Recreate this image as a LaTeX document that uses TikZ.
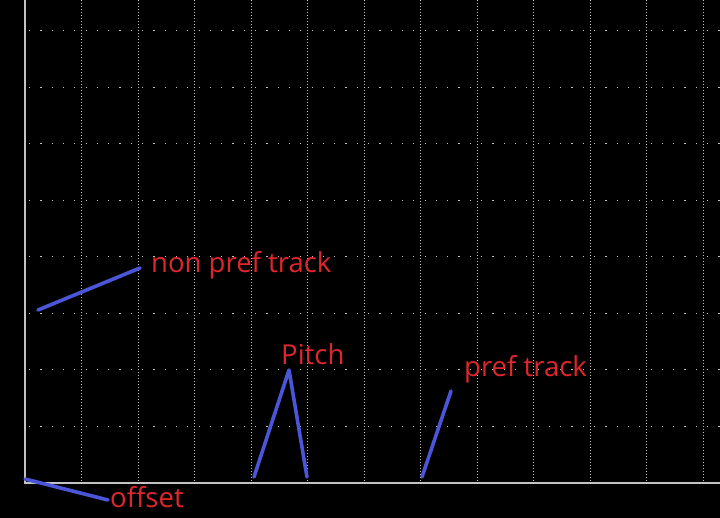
\documentclass[tikz,border=0pt]{standalone}
\usepackage{fontspec}
\setmainfont{Open Sans}
\definecolor{gridc}{RGB}{200,190,190}
\definecolor{axisc}{RGB}{195,195,195}
\definecolor{bluel}{RGB}{75,85,215}
\definecolor{redt}{RGB}{222,38,44}
\tikzset{
  vdot/.style={gridc, line width=0.8pt, dash pattern=on 1pt off 2pt},
  hdot/.style={gridc, line width=1pt, dash pattern=on 1.2pt off 10.1pt, dash phase=-4pt},
  axisline/.style={axisc, line width=1.4pt},
  pointer/.style={bluel, line width=3.6pt, line cap=round, line join=round},
  lbl/.style={redt, font=\fontsize{27.5}{31}\selectfont, inner sep=0pt, anchor=base west}
}
\begin{document}
\begin{tikzpicture}[x=1pt,y=-1pt]
\fill[black] (0,0) rectangle (720,518);
\useasboundingbox (0,0) rectangle (720,518);
% grid
\foreach \k in {1,...,12} {
  \draw[vdot] ({25+56.5*\k},0) -- ({25+56.5*\k},483);
}
\foreach \k in {1,...,8} {
  \draw[hdot] (25,{483-56.5*\k}) -- (720,{483-56.5*\k});
}
\draw[axisline] (25,0) -- (25,483) -- (720,483);
% labels
\node[lbl] (nonpref) at (151,273) {non pref track};
\node[lbl] (pitch) at (281,365) {Pitch};
\node[lbl] (pref) at (464,377) {pref track};
\node[lbl] (offset) at (110,507) {offset};
% pointer ends
\coordinate (np1) at (38,310);
\coordinate (np2) at (140,268);
\coordinate (of1) at (25,479);
\coordinate (of2) at (108,500);
\coordinate (pa) at (254,477);
\coordinate (pt) at (289,370);
\coordinate (pb) at (307,477);
\coordinate (pr1) at (422,477);
\coordinate (pr2) at (451,391);
\draw[pointer] (np1) -- (np2);
\draw[pointer] (of1) -- (of2);
\draw[pointer] (pa) -- (pt) -- (pb);
\draw[pointer] (pr1) -- (pr2);
\end{tikzpicture}
\end{document}
